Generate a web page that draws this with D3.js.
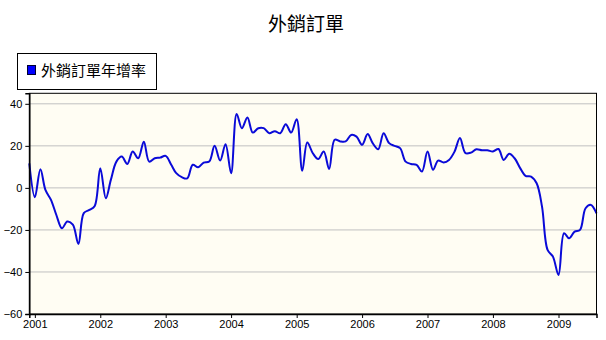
<!DOCTYPE html>
<html>
<head>
<meta charset="utf-8">
<script src="https://cdn.jsdelivr.net/npm/d3@7"></script>
<style>
  html, body { margin: 0; padding: 0; background: #ffffff; }
  svg { display: block; }
</style>
</head>
<body>
<svg id="chart" width="606" height="340"></svg>
<script>
const title = "外銷訂單";
const seriesName = "外銷訂單年增率";
const startMonth = [2000, 12];   // first data month
const endMonth = [2009, 8];      // last data month
const values = [
  11.7, -4.4, 8.9, -1, -5.7, -12.9, -19.2, -16, -17.5, -26.7, -12, -10.5,
  -8.6, 9.4, -4.9, 3.8, 12.5, 14.9, 11.4, 17.3, 14.1, 22, 12.5, 14.1,
  14.4, 15.2, 11, 7, 5.1, 4.5, 11, 9.8, 12, 12.5, 20, 13,
  20.8, 7, 35.2, 28.4, 33.5, 26.3, 28.4, 28.4, 26, 27, 26, 30.3,
  26.3, 32.7, 8.1, 21.6, 16.5, 13.7, 17.3, 9, 22.9, 22.1, 22.1, 25.2,
  24.4, 20.5, 25.6, 21.3, 18.4, 26, 21.3, 20, 18.9, 12.5, 11.4, 11,
  7.8, 17.3, 8.6, 13, 12.1, 13.3, 17.3, 23.7, 16.5, 16.8, 18.4, 17.9,
  17.9, 17.3, 18.5, 13.3, 16.2, 14.1, 9.4, 5.7, 5.4, 2.2, -8.9, -29.5,
  -32.7, -41.4, -21.6, -24, -20.8, -20, -9.7, -8.1, -12.1
];
const yTicks = [-60, -40, -20, 0, 20, 40];
const xTickYears = [2001, 2002, 2003, 2004, 2005, 2006, 2007, 2008, 2009];

const svg = d3.select("#chart");
const L = 29.3, R = 596.5, T = 93.3, B = 314;

const d0 = new Date(startMonth[0], startMonth[0] ? startMonth[1] - 1 : 0, 1);
const d1 = new Date(endMonth[0], endMonth[1] - 1, 1);
const months = d3.timeMonth.range(d0, d3.timeMonth.offset(d1, 1));
const data = months.map((d, i) => ({ date: d, v: values[i] }));

const x = d3.scaleTime().domain([d0, d1]).range([L, R]);
const y = d3.scaleLinear().domain([-60, 45]).range([B, T]);

// plot background
svg.append("rect").attr("x", L).attr("y", T).attr("width", R - L).attr("height", B - T)
  .attr("fill", "#fffdf3");

// gridlines
svg.append("g").selectAll("line").data(yTicks.filter(t => t > -60)).join("line")
  .attr("x1", L).attr("x2", R)
  .attr("y1", d => y(d)).attr("y2", d => y(d))
  .attr("stroke", "#c0c0c0").attr("stroke-width", 1);

// line
const line = d3.line().x(d => x(d.date)).y(d => y(d.v)).curve(d3.curveCatmullRom.alpha(0.5));
svg.append("path").datum(data).attr("d", line)
  .attr("fill", "none").attr("stroke", "#0a0ad8").attr("stroke-width", 2)
  .attr("stroke-linejoin", "round");

// frame
svg.append("rect").attr("x", L).attr("y", T).attr("width", R - L).attr("height", B - T)
  .attr("fill", "none").attr("stroke", "#000").attr("stroke-width", 1);

// y axis
const yAxis = d3.axisLeft(y).tickValues(yTicks).tickSize(4).tickPadding(3);
const gy = svg.append("g").attr("transform", `translate(${L},0)`).call(yAxis);
gy.select(".domain").attr("stroke", "#000").attr("stroke-width", 1.5);
gy.selectAll("text").attr("font-family", "Liberation Sans, Arial, sans-serif")
  .attr("font-size", 11).attr("fill", "#000");

// x axis
const xAxis = d3.axisBottom(x).tickValues(xTickYears.map(yy => new Date(yy, 0, 1)))
  .tickFormat(d3.timeFormat("%Y")).tickSize(4).tickPadding(2);
const gx = svg.append("g").attr("transform", `translate(0,${B})`).call(xAxis);
gx.select(".domain").attr("stroke", "#000").attr("stroke-width", 1.5);
gx.selectAll("text").attr("font-family", "Liberation Sans, Arial, sans-serif")
  .attr("font-size", 11).attr("fill", "#000");

// title
svg.append("text").attr("x", 306).attr("y", 30.5).attr("text-anchor", "middle")
  .attr("font-family", "Noto Sans CJK TC, sans-serif").attr("font-size", 19)
  .attr("fill", "#000").text(title);

// legend
svg.append("rect").attr("x", 17.5).attr("y", 53.5).attr("width", 139).attr("height", 36)
  .attr("fill", "#fff").attr("stroke", "#000").attr("stroke-width", 1);
svg.append("rect").attr("x", 27.5).attr("y", 65.5).attr("width", 8).attr("height", 9)
  .attr("fill", "#0000ff").attr("stroke", "#000033").attr("stroke-width", 1);
svg.append("text").attr("x", 41).attr("y", 76).attr("font-family", "Noto Sans CJK TC, sans-serif")
  .attr("font-size", 15).attr("fill", "#000").text(seriesName);
</script>
</body>
</html>
